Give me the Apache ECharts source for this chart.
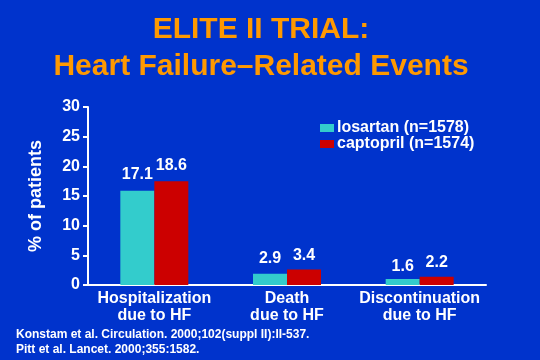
<!DOCTYPE html>
<html><head><meta charset="utf-8">
<script src="https://cdn.jsdelivr.net/npm/echarts@6/dist/echarts.min.js"></script>
<style>html,body{margin:0;padding:0;background:#0033CC;}#c{width:540px;height:360px;}</style>
</head><body><div id="c"></div>
<script>
var categories = ['Hospitalization\ndue to HF', 'Death\ndue to HF', 'Discontinuation\ndue to HF'];
var seriesNames = ['losartan (n=1578)', 'captopril (n=1574)'];
// reported values (labels)
var losartanValues = [17.1, 2.9, 1.6];
var captoprilValues = [18.6, 3.4, 2.2];
// bar heights as drawn in the slide
var losartanBars = [15.9, 1.9, 1.0];
var captoprilBars = [17.5, 2.6, 1.4];
var yTicks = [0, 5, 10, 15, 20, 25, 30];
var titleLines = ['ELITE II TRIAL:', 'Heart Failure\u2013Related Events'];
var footnotes = ['Konstam et al. Circulation. 2000;102(suppl II):II-537.', 'Pitt et al. Lancet. 2000;355:1582.'];

var FONT = 'Liberation Sans, Arial, sans-serif';
var chart = echarts.init(document.getElementById('c'));
var labelStyle = {show: true, position: 'top', distance: 1, color: '#fff', fontFamily: FONT, fontWeight: 'bold', fontSize: 16,
  formatter: function (p) { return p.value.toFixed(1); }};
chart.setOption({
  backgroundColor: '#0033CC',
  animation: false,
  title: [
    {text: footnotes.join('\n'), left: 11, top: 322, textStyle: {color: '#fff', fontFamily: FONT, fontWeight: 'bold', fontSize: 12, lineHeight: 15}}
  ],
  graphic: [
    {type: 'text', x: 261, y: 11, style: {text: titleLines.join('\n'), align: 'center', verticalAlign: 'top', fill: '#FF9900', font: 'bold 30px ' + FONT, lineHeight: 37}}
  ],
  legend: {
    data: seriesNames, orient: 'vertical', left: 315, top: 115,
    itemWidth: 14, itemHeight: 8, itemGap: 0, icon: 'rect',
    textStyle: {color: '#fff', fontFamily: FONT, fontWeight: 'bold', fontSize: 16, lineHeight: 14, padding: [0, 0, 0, -2]}
  },
  grid: {left: 88, right: 54, top: 107, bottom: 75},
  xAxis: [
    {type: 'category', data: categories,
      axisLine: {lineStyle: {color: '#fff', width: 2}}, axisTick: {show: false},
      axisLabel: {interval: 0, color: '#fff', fontFamily: FONT, fontWeight: 'bold', fontSize: 16, lineHeight: 17, margin: 5}},
    {type: 'category', data: categories, show: false}
  ],
  yAxis: {
    type: 'value', min: 0, max: 30, interval: 5,
    name: '% of patients', nameLocation: 'middle', nameGap: 43, nameRotate: 90,
    nameTextStyle: {color: '#fff', fontFamily: FONT, fontWeight: 'bold', fontSize: 18},
    axisLine: {show: true, onZero: false, lineStyle: {color: '#fff', width: 2}},
    axisTick: {show: true, length: 5, lineStyle: {color: '#fff', width: 2}},
    splitLine: {show: false},
    axisLabel: {color: '#fff', fontFamily: FONT, fontWeight: 'bold', fontSize: 16, margin: 8,
      formatter: function (v) { return yTicks.indexOf(v) >= 0 ? String(v) : ''; }}
  },
  series: [
    {name: seriesNames[0], type: 'bar', data: losartanBars, barWidth: 34, barGap: '0%', itemStyle: {color: '#33CCCC'}},
    {name: seriesNames[1], type: 'bar', data: captoprilBars, barWidth: 34, barGap: '0%', itemStyle: {color: '#CC0000'}},
    {name: 'lab0', type: 'bar', xAxisIndex: 1, data: losartanValues, barWidth: 34, barGap: '0%', itemStyle: {color: 'rgba(0,0,0,0)'}, label: labelStyle, silent: true},
    {name: 'lab1', type: 'bar', xAxisIndex: 1, data: captoprilValues, barWidth: 34, barGap: '0%', itemStyle: {color: 'rgba(0,0,0,0)'}, label: labelStyle, silent: true}
  ]
});
</script></body></html>
